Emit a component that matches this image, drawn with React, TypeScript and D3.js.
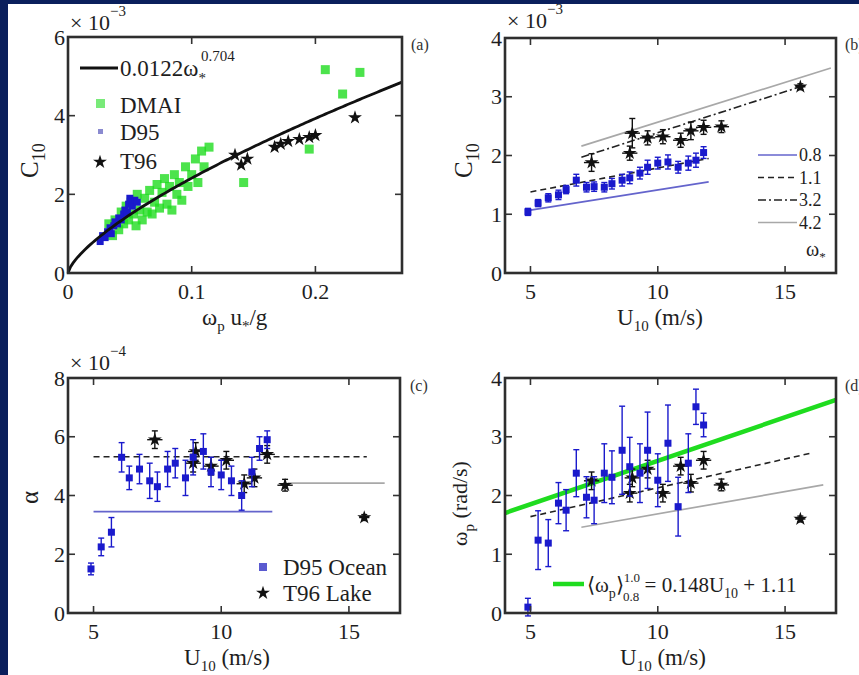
import React from 'react';
import * as d3 from 'd3';

const W = 859;
const H = 675;
const FONT = 'Liberation Serif';

// ---------- (a) drag coefficient against inverse wave age ----------
const dmaiAge = [0.033, 0.036, 0.038, 0.041, 0.043, 0.045, 0.047, 0.049, 0.051, 0.053, 0.055, 0.056, 0.058, 0.06, 0.062, 0.064, 0.066, 0.068, 0.07, 0.072, 0.074, 0.076, 0.078, 0.08, 0.082, 0.084, 0.086, 0.088, 0.09, 0.092, 0.095, 0.097, 0.1, 0.103, 0.105, 0.108, 0.11, 0.114, 0.142, 0.195, 0.208, 0.222, 0.236];
const dmaiC10 = [1.25, 0.95, 1.35, 1.1, 1.55, 1.25, 1.7, 1.35, 1.8, 1.5, 1.2, 2.0, 1.6, 1.35, 1.9, 1.55, 2.1, 1.5, 1.8, 2.25, 1.65, 2.05, 2.4, 1.75, 2.2, 1.6, 2.5, 2.0, 2.3, 1.85, 2.7, 2.2, 2.5, 2.9, 2.3, 3.1, 2.7, 3.2, 2.3, 3.15, 5.17, 4.55, 5.1];
const d95Age = [0.026, 0.028, 0.03, 0.032, 0.034, 0.035, 0.037, 0.038, 0.04, 0.041, 0.043, 0.045, 0.046, 0.048, 0.049, 0.05, 0.052, 0.054, 0.056];
const d95C10Age = [0.8, 0.95, 0.9, 1.05, 1.15, 1.0, 1.2, 1.3, 1.25, 1.4, 1.35, 1.5, 1.6, 1.55, 1.75, 1.9, 1.7, 1.85, 1.8];
const t96Age = [0.135, 0.14, 0.145, 0.167, 0.172, 0.178, 0.187, 0.195, 0.2, 0.232];
const t96C10Age = [3.0, 2.75, 2.9, 3.2, 3.28, 3.35, 3.4, 3.45, 3.5, 3.95];
const fitCoef = 0.0122;
const fitExp = 0.704;

// ---------- D95 ocean and T96 lake records against wind speed ----------
const d95U = [4.9, 5.3, 5.7, 6.1, 6.4, 6.8, 7.2, 7.5, 7.9, 8.2, 8.6, 8.9, 9.3, 9.6, 10.0, 10.4, 10.8, 11.2, 11.5, 11.8];
const d95C10 = [1.04, 1.19, 1.28, 1.33, 1.42, 1.58, 1.46, 1.47, 1.46, 1.52, 1.58, 1.62, 1.7, 1.8, 1.87, 1.89, 1.8, 1.87, 1.92, 2.05];
const d95C10Err = [0.06, 0.06, 0.07, 0.08, 0.07, 0.1, 0.08, 0.08, 0.08, 0.09, 0.1, 0.1, 0.1, 0.12, 0.1, 0.12, 0.1, 0.12, 0.12, 0.1];
const d95Alpha = [1.5, 2.25, 2.75, 5.3, 4.6, 4.9, 4.5, 4.3, 4.9, 5.1, 4.6, 5.3, 5.5, 4.8, 4.7, 4.5, 4.0, 4.8, 5.6, 5.9];
const d95AlphaErr = [0.2, 0.3, 0.5, 0.5, 0.4, 0.5, 0.6, 0.5, 0.6, 0.5, 0.6, 0.6, 0.6, 0.5, 0.5, 0.5, 0.5, 0.5, 0.4, 0.3];
const d95Omega = [0.1, 1.24, 1.19, 1.87, 1.75, 2.38, 1.97, 1.92, 2.38, 2.31, 2.77, 2.49, 2.38, 2.77, 2.26, 2.89, 1.81, 2.55, 3.51, 3.2];
const d95OmegaErr = [0.15, 0.5, 0.4, 0.35, 0.35, 0.4, 0.35, 0.4, 0.5, 0.45, 0.75, 0.5, 0.5, 0.65, 0.45, 0.65, 0.5, 0.5, 0.3, 0.2];

const t96U = [7.4, 8.9, 9.0, 9.6, 10.2, 10.9, 11.3, 11.8, 12.5, 15.6];
const t96UErr = [0.3, 0.3, 0.3, 0.3, 0.3, 0.3, 0.3, 0.3, 0.3, 0.2];
const t96C10 = [1.88, 2.04, 2.38, 2.3, 2.32, 2.26, 2.42, 2.48, 2.49, 3.17];
const t96C10Err = [0.15, 0.12, 0.25, 0.12, 0.12, 0.12, 0.15, 0.12, 0.1, 0.05];
const t96Alpha = [5.9, 5.1, 5.5, 5.0, 5.2, 4.4, 4.6, 5.4, 4.35, 3.25];
const t96AlphaErr = [0.3, 0.3, 0.3, 0.3, 0.3, 0.3, 0.3, 0.3, 0.2, 0.1];
const t96Omega = [2.25, 2.04, 2.3, 2.45, 2.04, 2.5, 2.21, 2.6, 2.18, 1.6];
const t96OmegaErr = [0.15, 0.15, 0.15, 0.15, 0.15, 0.15, 0.15, 0.15, 0.1, 0.05];

// ---------- model curves ----------
const bLineLabels = ['0.8', '1.1', '3.2', '4.2'];
const bLineU = [[5, 12], [5, 12], [7, 15.6], [7, 16.8]];
const bLineC = [[1.07, 1.55], [1.38, 1.95], [1.97, 3.17], [2.16, 3.49]];

const cLineU = [[5, 12], [5, 15.7], [12.6, 16.4]];
const cLineAlpha = [[3.45, 3.45], [5.32, 5.32], [4.42, 4.42]];

const dLineU = [[5, 16], [7, 16.5]];
const dLineOmega = [[1.64, 2.72], [1.46, 2.18]];
const omegaSlope = 0.148;
const omegaIntercept = 1.11;

// ---------- styling ----------
const BLUE = '#1a1acc';
const GREEN = '#1fdc1f';
const INK = '#1e1e1e';
const LINE_STYLES = [
  { stroke: '#6464cc', dash: '', width: 1.7 },
  { stroke: '#222', dash: '6,4', width: 1.6 },
  { stroke: '#222', dash: '8,3,2,3', width: 1.6 },
  { stroke: '#a8a8a8', dash: '', width: 1.7 },
];

type Lin = d3.ScaleLinear<number, number>;

function Frame({ x, y, xticks, yticks }: { x: Lin; y: Lin; xticks: number[]; yticks: number[] }) {
  const [x0, x1] = x.range();
  const [y0, y1] = y.range();
  const tl = 7;
  return (
    <g>
      {xticks.map((t) => (
        <g key={'x' + t}>
          <line x1={x(t)} x2={x(t)} y1={y0} y2={y0 - tl} stroke="#333" strokeWidth={1.6} />
          <line x1={x(t)} x2={x(t)} y1={y1} y2={y1 + tl} stroke="#333" strokeWidth={1.6} />
          <text x={x(t)} y={y0 + 26} textAnchor="middle" fontSize={22} fontFamily={FONT} fill={INK}>{String(t)}</text>
        </g>
      ))}
      {yticks.map((t) => (
        <g key={'y' + t}>
          <line x1={x0} x2={x0 + tl} y1={y(t)} y2={y(t)} stroke="#333" strokeWidth={1.6} />
          <line x1={x1} x2={x1 - tl} y1={y(t)} y2={y(t)} stroke="#333" strokeWidth={1.6} />
          <text x={x0 - 3} y={y(t) + 7.5} textAnchor="end" fontSize={22} fontFamily={FONT} fill={INK}>{t}</text>
        </g>
      ))}
      <rect x={x0} y={y1} width={x1 - x0} height={y0 - y1} fill="none" stroke="#2e2e2e" strokeWidth={2.6} />
    </g>
  );
}

function Exponent({ x, y, p }: { x: number; y: number; p: string }) {
  return (
    <text x={x} y={y} fontSize={22} fontFamily={FONT} fill={INK}>
      × 10<tspan dy={-14} fontSize={15}>{p}</tspan>
    </text>
  );
}

function Points({ xs, ys, errs, xErrs, sx, sy, kind }: { xs: number[]; ys: number[]; errs?: number[]; xErrs?: number[]; sx: Lin; sy: Lin; kind: 'blue' | 'star' | 'green' }) {
  const star = d3.symbol(d3.symbolStar, 60)()!;
  const color = kind === 'blue' ? BLUE : kind === 'star' ? '#111' : GREEN;
  return (
    <g>
      {xs.map((u, i) => {
        const px = sx(u);
        const py = sy(ys[i]);
        return (
          <g key={i}>
            {errs && (
              <g stroke={color} strokeWidth={1.4}>
                <line x1={px} x2={px} y1={sy(ys[i] - errs[i])} y2={sy(ys[i] + errs[i])} />
                <line x1={px - 3} x2={px + 3} y1={sy(ys[i] - errs[i])} y2={sy(ys[i] - errs[i])} />
                <line x1={px - 3} x2={px + 3} y1={sy(ys[i] + errs[i])} y2={sy(ys[i] + errs[i])} />
              </g>
            )}
            {xErrs && (
              <line x1={sx(u - xErrs[i])} x2={sx(u + xErrs[i])} y1={py} y2={py} stroke={color} strokeWidth={1.4} />
            )}
            {kind === 'star' ? (
              <path d={star} transform={`translate(${px},${py})`} fill="#111" />
            ) : kind === 'blue' ? (
              <rect x={px - 3.5} y={py - 3.5} width={7} height={7} fill={BLUE} />
            ) : (
              <rect x={px - 4.5} y={py - 4.5} width={9} height={9} fill={GREEN} fillOpacity={0.8} />
            )}
          </g>
        );
      })}
    </g>
  );
}

function Seg({ us, vs, sx, sy, style }: { us: number[]; vs: number[]; sx: Lin; sy: Lin; style: { stroke: string; dash: string; width: number } }) {
  return (
    <line x1={sx(us[0])} y1={sy(vs[0])} x2={sx(us[1])} y2={sy(vs[1])} stroke={style.stroke} strokeWidth={style.width} strokeDasharray={style.dash || undefined} />
  );
}

function SpeedLabel({ x, y }: { x: number; y: number }) {
  return (
    <text x={x} y={y} fontSize={23} fontFamily={FONT} fill={INK}>
      U<tspan dy={6} fontSize={15}>10</tspan><tspan dy={-6}> (m/s)</tspan>
    </text>
  );
}

export default function App() {
  // panel scales
  const ax = d3.scaleLinear().domain([0, 0.27]).range([68, 402]);
  const ay = d3.scaleLinear().domain([0, 6]).range([273, 37]);
  const bx = d3.scaleLinear().domain([4, 17]).range([505, 836]);
  const by = d3.scaleLinear().domain([0, 4]).range([273, 38]);
  const cx = d3.scaleLinear().domain([4, 17]).range([68, 400]);
  const cy = d3.scaleLinear().domain([0, 8]).range([613, 378]);
  const dx = d3.scaleLinear().domain([4, 17]).range([505, 836]);
  const dy = d3.scaleLinear().domain([0, 4]).range([613, 378]);

  const fitX = d3.range(0, 0.2701, 0.002);
  const fitLine = d3.line<number>().x((v) => ax(v)).y((v) => ay(fitCoef * Math.pow(v, fitExp) * 1000))(fitX)!;

  const star = d3.symbol(d3.symbolStar, 60)()!;
  const uTicks = [5, 10, 15];

  return (
    <svg width={W} height={H} style={{ position: 'absolute', left: 0, top: 0 }} fontFamily={FONT}>
      <rect x={0} y={0} width={W} height={H} fill="#0a1f5c" />
      <rect x={8} y={4} width={W - 8} height={H - 4} fill="#ffffff" />

      {/* ---------- (a) ---------- */}
      <g>
        <Points xs={dmaiAge} ys={dmaiC10} sx={ax} sy={ay} kind="green" />
        <Points xs={d95Age} ys={d95C10Age} sx={ax} sy={ay} kind="blue" />
        <Points xs={t96Age} ys={t96C10Age} sx={ax} sy={ay} kind="star" />
        <path d={fitLine} fill="none" stroke="#111" strokeWidth={2.8} />
        <Frame x={ax} y={ay} xticks={[0, 0.1, 0.2]} yticks={[0, 2, 4, 6]} />
        <Exponent x={70} y={30} p="−3" />
        <text x={411} y={50} fontSize={16} fill="#333">(a)</text>
        {/* legend */}
        <line x1={80} x2={118} y1={68} y2={68} stroke="#111" strokeWidth={3} />
        <text x={120} y={76} fontSize={23} fill={INK}>
          0.0122ω<tspan dy={7} fontSize={15}>*</tspan><tspan dx={-5} dy={-22} fontSize={15}>0.704</tspan>
        </text>
        <rect x={96} y={99} width={9} height={9} fill={GREEN} fillOpacity={0.6} />
        <text x={120} y={113} fontSize={23} fill={INK}>DMAI</text>
        <rect x={98} y={129} width={5} height={5} fill="#8a8ad0" />
        <text x={120} y={140} fontSize={23} fill={INK}>D95</text>
        <path d={star} transform="translate(100,162)" fill="#111" />
        <text x={120} y={169} fontSize={23} fill={INK}>T96</text>
        {/* axis labels */}
        <text x={202} y={325} fontSize={23} fill={INK}>
          ω<tspan dy={6} fontSize={15}>p</tspan><tspan dy={-6}> u</tspan><tspan dy={6} fontSize={15}>*</tspan><tspan dy={-6}>/g</tspan>
        </text>
        <text transform="translate(38,178) rotate(-90)" fontSize={25} fill={INK}>
          C<tspan dy={7} fontSize={18}>10</tspan>
        </text>
      </g>

      {/* ---------- (b) ---------- */}
      <g>
        {bLineU.map((us, i) => (
          <Seg key={i} us={us} vs={bLineC[i]} sx={bx} sy={by} style={LINE_STYLES[i]} />
        ))}
        <Points xs={t96U} ys={t96C10} errs={t96C10Err} xErrs={t96UErr} sx={bx} sy={by} kind="star" />
        <Points xs={d95U} ys={d95C10} errs={d95C10Err} sx={bx} sy={by} kind="blue" />
        <Frame x={bx} y={by} xticks={uTicks} yticks={[0, 1, 2, 3, 4]} />
        <Exponent x={507} y={28} p="−3" />
        <text x={845} y={50} fontSize={16} fill="#333">(b)</text>
        {bLineLabels.map((lab, i) => (
          <g key={lab}>
            <line x1={758} x2={797} y1={155 + i * 22.5} y2={155 + i * 22.5} stroke={LINE_STYLES[i].stroke} strokeWidth={LINE_STYLES[i].width} strokeDasharray={LINE_STYLES[i].dash || undefined} />
            <text x={799} y={161 + i * 22.5} fontSize={18} fill={INK}>{lab}</text>
          </g>
        ))}
        <text x={806} y={256} fontSize={20} fill={INK}>
          ω<tspan dy={5} fontSize={13}>*</tspan>
        </text>
        <SpeedLabel x={617} y={325} />
        <text transform="translate(472,178) rotate(-90)" fontSize={25} fill={INK}>
          C<tspan dy={7} fontSize={18}>10</tspan>
        </text>
      </g>

      {/* ---------- (c) ---------- */}
      <g>
        {cLineU.map((us, i) => (
          <Seg key={i} us={us} vs={cLineAlpha[i]} sx={cx} sy={cy} style={[LINE_STYLES[0], LINE_STYLES[1], LINE_STYLES[3]][i]} />
        ))}
        <Points xs={t96U} ys={t96Alpha} errs={t96AlphaErr} xErrs={t96UErr} sx={cx} sy={cy} kind="star" />
        <Points xs={d95U} ys={d95Alpha} errs={d95AlphaErr} sx={cx} sy={cy} kind="blue" />
        <Frame x={cx} y={cy} xticks={uTicks} yticks={[0, 2, 4, 6, 8]} />
        <Exponent x={70} y={370} p="−4" />
        <text x={410} y={391} fontSize={16} fill="#333">(c)</text>
        <rect x={259} y={563} width={8} height={8} fill="#5a5ad0" />
        <text x={283} y={575} fontSize={23} fill={INK}>D95 Ocean</text>
        <path d={star} transform="translate(263,593)" fill="#111" />
        <text x={283} y={601} fontSize={23} fill={INK}>T96 Lake</text>
        <SpeedLabel x={184} y={665} />
        <text transform="translate(38,504) rotate(-90)" fontSize={25} fill={INK}>α</text>
      </g>

      {/* ---------- (d) ---------- */}
      <g>
        <line x1={dx(4)} y1={dy(omegaSlope * 4 + omegaIntercept)} x2={dx(17)} y2={dy(omegaSlope * 17 + omegaIntercept)} stroke={GREEN} strokeWidth={4.5} />
        {dLineU.map((us, i) => (
          <Seg key={i} us={us} vs={dLineOmega[i]} sx={dx} sy={dy} style={[LINE_STYLES[1], LINE_STYLES[3]][i]} />
        ))}
        <Points xs={t96U} ys={t96Omega} errs={t96OmegaErr} xErrs={t96UErr} sx={dx} sy={dy} kind="star" />
        <Points xs={d95U} ys={d95Omega} errs={d95OmegaErr} sx={dx} sy={dy} kind="blue" />
        <Frame x={dx} y={dy} xticks={uTicks} yticks={[0, 1, 2, 3, 4]} />
        <text x={845} y={391} fontSize={16} fill="#333">(d)</text>
        <line x1={553} x2={584} y1={584} y2={584} stroke={GREEN} strokeWidth={4.5} />
        <text x={587} y={592} fontSize={21} fill={INK}>
          ⟨ω<tspan dy={6} fontSize={14}>p</tspan><tspan dy={-6}>⟩</tspan>
          <tspan dy={-10} fontSize={13}>1.0</tspan>
          <tspan dx={-17} dy={19} fontSize={13}>0.8</tspan>
          <tspan dy={-9}> = 0.148U</tspan>
          <tspan dy={6} fontSize={14}>10</tspan>
          <tspan dy={-6}> + 1.11</tspan>
        </text>
        <SpeedLabel x={620} y={665} />
        <text transform="translate(467,546) rotate(-90)" fontSize={22} fill={INK}>
          ω<tspan dy={7} fontSize={15}>p</tspan><tspan dy={-7}> (rad/s)</tspan>
        </text>
      </g>
    </svg>
  );
}
